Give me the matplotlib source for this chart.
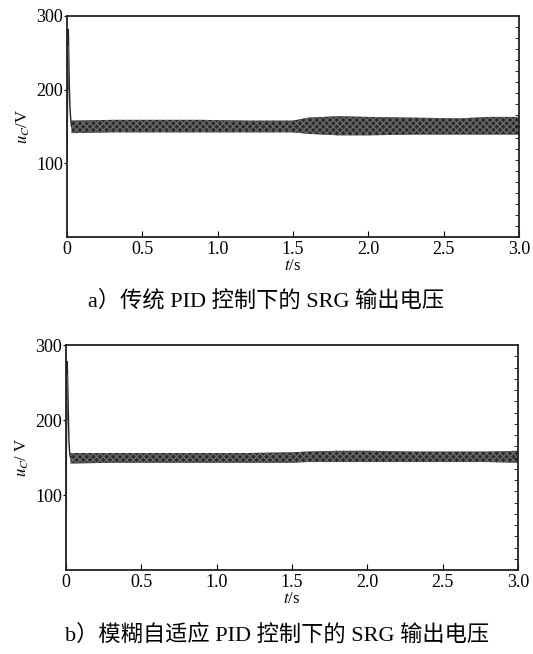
import numpy as np
import matplotlib
matplotlib.use("Agg")
import matplotlib.pyplot as plt
from matplotlib.ticker import MultipleLocator

plt.rcParams['font.family'] = ['Liberation Serif', 'Noto Sans CJK SC']
plt.rcParams['mathtext.fontset'] = 'stix'

# start-up transient (t in s, voltage in V)
t_start = [0.0, 0.002, 0.004, 0.006, 0.008, 0.010, 0.013, 0.016, 0.020, 0.025, 0.030]
u_start_a = [105, 150, 210, 250, 282, 270, 230, 200, 175, 158, 150]
u_start_b = [70, 130, 200, 255, 278, 265, 235, 205, 170, 155, 150]

# steady-state ripple envelope
t_env = [0.03, 0.3, 0.6, 0.9, 1.2, 1.5, 1.6, 1.8, 2.0, 2.3, 2.6, 2.8, 3.0]
upper_a = [158, 159, 159, 159, 158, 158, 162, 164, 163, 162, 161, 163, 163]
lower_a = [141, 142, 142, 142, 142, 142, 140, 138, 138, 139, 139, 139, 139]
upper_b = [156, 156, 156, 156, 156, 157, 158, 159, 159, 158, 158, 158, 159]
lower_b = [142, 143, 143, 143, 143, 143, 144, 144, 144, 144, 144, 144, 143]

x_ticks = [0, 0.5, 1.0, 1.5, 2.0, 2.5, 3.0]
x_labels = ['0', '0.5', '1.0', '1.5', '2.0', '2.5', '3.0']
y_ticks = [100, 200, 300]

captions = ['a）传统 PID 控制下的 SRG 输出电压',
            'b）模糊自适应 PID 控制下的 SRG 输出电压']
ylabels = [r'$u_C$/V', r'$u_C$/ V']

fig = plt.figure(figsize=(5.33, 6.54), dpi=100)
ax_a = fig.add_axes([0.1257, 0.6376, 0.848, 0.338])
ax_b = fig.add_axes([0.1238, 0.1284, 0.848, 0.344])

panels = [(ax_a, u_start_a, upper_a, lower_a),
          (ax_b, u_start_b, upper_b, lower_b)]

for i, (ax, u0, up, lo) in enumerate(panels):
    ax.fill_between(t_env, lo, up, facecolor='#2b2b2b', edgecolor='#6a6a6a',
                    hatch='xxxxx', linewidth=0)
    ax.plot(t_start, u0, color='#222222', lw=1.0)
    ax.plot([0.003, 0.005, 0.007, 0.009, 0.011], [160, 230, 200, 260, 215],
            color='#555555', lw=0.8)
    ax.set_xlim(0, 3.0)
    ax.set_ylim(0, 300)
    ax.set_xticks(x_ticks)
    ax.set_xticklabels(x_labels)
    ax.set_yticks(y_ticks)
    ax.yaxis.set_minor_locator(MultipleLocator(15))
    ax.tick_params(axis='x', direction='in', length=4, labelsize=13, pad=3)
    ax.tick_params(axis='y', which='major', direction='out', length=2,
                   labelsize=13, pad=1)
    ax.tick_params(axis='y', which='minor', left=False, right=True,
                   direction='in', length=3)
    for s in ax.spines.values():
        s.set_linewidth(1.3)
        s.set_color('#222222')
    ax.set_xlabel(r'$t$/s', fontsize=12, labelpad=0)
    ax.set_ylabel(ylabels[i], fontsize=12, labelpad=3)

fig.text(0.5, 0.54, captions[0], ha='center', va='center', fontsize=16)
fig.text(0.52, 0.029, captions[1], ha='center', va='center', fontsize=16)

fig.savefig('out.png', dpi=100, facecolor='white')
